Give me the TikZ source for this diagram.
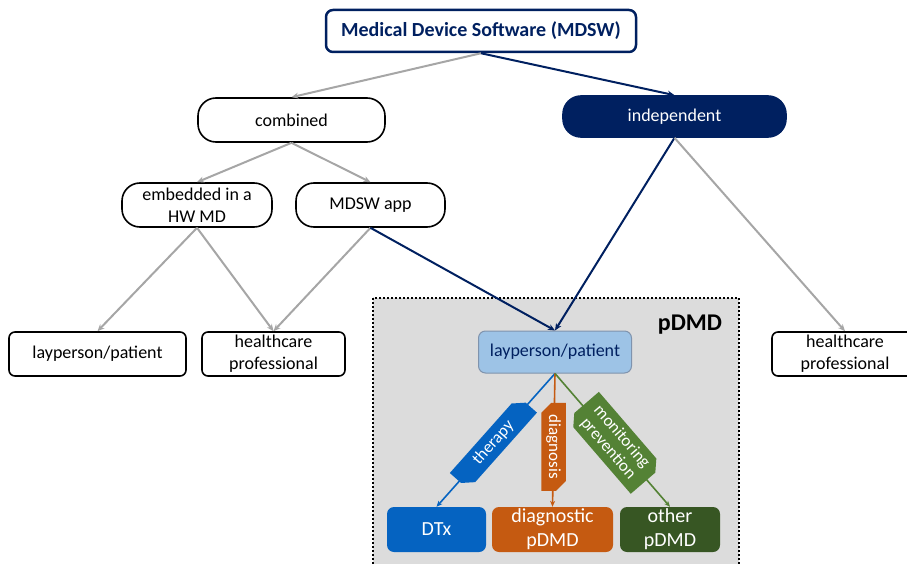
\documentclass[tikz,border=0pt]{standalone}
\usepackage{fontspec}
\setmainfont{Carlito}
\usetikzlibrary{arrows.meta,shapes.misc}
\definecolor{navy}{HTML}{002060}
\definecolor{arrgray}{HTML}{A6A6A6}
\definecolor{lblue}{HTML}{9DC3E6}
\definecolor{lblueborder}{HTML}{7F93AD}
\definecolor{dtxblue}{HTML}{0563C1}
\definecolor{orng}{HTML}{C55A11}
\definecolor{dgreen}{HTML}{375623}
\definecolor{mgreen}{HTML}{548235}
\definecolor{boxgray}{HTML}{DCDCDC}
\begin{document}
\begin{tikzpicture}[x=1pt,y=-1pt,
  fs/.style={font=\fontsize{18}{22}\selectfont},
  pill/.style={draw=black, line width=1.6pt, rounded corners=18pt, inner sep=0pt, align=center, fs},
  plainbox/.style={draw=black, line width=1.6pt, rounded corners=6pt, inner sep=0pt, align=center, fs},
  leafbox/.style={rounded corners=7pt, inner sep=0pt, align=center, text=white, font=\fontsize{20}{24}\selectfont},
  garrow/.style={draw=arrgray, line width=2pt, -{Stealth[length=7pt,width=6pt]}},
  narrow/.style={draw=navy, line width=2pt, -{Stealth[length=7pt,width=6pt]}},
  carrow/.style={line width=1.6pt, -{Stealth[length=6pt,width=5pt]}},
  tagbox/.style={chamfered rectangle, chamfered rectangle corners={north east,south west},
     chamfered rectangle xsep=5pt, chamfered rectangle ysep=5pt,
     inner sep=0pt, text=white, align=center, font=\fontsize{17}{18}\selectfont}
]
\useasboundingbox (0,0) rectangle (907,564);

% pDMD background box
\draw[fill=boxgray, draw=black, line width=2pt, dotted] (373,298) rectangle (739,580);
\node[font=\fontsize{24}{28}\selectfont\bfseries, inner sep=0pt] (ptitle) at (690,325) {pDMD};

% nodes
\node[draw=navy, line width=2.5pt, rounded corners=7pt, minimum width=310pt, minimum height=42pt,
      inner sep=0pt, text=navy, font=\fontsize{20}{24}\selectfont\bfseries] (mdsw) at (481,31) {Medical Device Software (MDSW)};

\node[pill, minimum width=187pt, minimum height=44pt] (comb) at (291.5,120) {combined};
\node[pill, draw=navy, fill=navy, text=white, minimum width=223pt, minimum height=41pt] (indep) at (674.5,116.5) {independent};

\node[pill, minimum width=150pt, minimum height=44pt] (emb) at (197,205) {embedded in a\\HW MD};
\node[pill, minimum width=149pt, minimum height=44pt] (app) at (370.5,205) {MDSW app};

\node[plainbox, minimum width=177pt, minimum height=44pt] (lay1) at (97.5,354) {layperson/patient};
\node[plainbox, minimum width=143pt, minimum height=44pt] (hc1) at (273.5,354) {healthcare\\professional};
\node[plainbox, minimum width=146pt, minimum height=44pt] (hc2) at (845,354) {healthcare\\professional};

\node[draw=lblueborder, line width=1pt, fill=lblue, rounded corners=7pt, minimum width=153pt, minimum height=42pt,
      inner sep=0pt, text=navy, fs] (lay2) at (555,352) {layperson/patient};

\node[leafbox, fill=dtxblue, minimum width=99pt, minimum height=45pt] (dtx) at (436.5,529.5) {DTx};
\node[leafbox, fill=orng, minimum width=121pt, minimum height=45pt] (diag) at (552.5,529.5) {diagnostic\\pDMD};
\node[leafbox, fill=dgreen, minimum width=100pt, minimum height=45pt] (oth) at (670,529.5) {other\\pDMD};

% connectors
\draw[garrow] (mdsw.south) -- (comb.north);
\draw[narrow] (mdsw.south) -- (indep.north);
\draw[garrow] (comb.south) -- (emb.north);
\draw[garrow] (comb.south) -- (app.north);
\draw[garrow] (emb.south) -- (lay1.north);
\draw[garrow] (emb.south) -- (hc1.north);
\draw[garrow] (app.south) -- (hc1.north);
\draw[narrow] (app.south) -- (lay2.north);
\draw[narrow] (indep.south) -- (lay2.north);
\draw[garrow] (indep.south) -- (hc2.north);

\draw[carrow, draw=dtxblue] (lay2.south) -- (dtx.north)
  node[tagbox, fill=dtxblue, pos=0.52, sloped, minimum width=103pt, minimum height=25pt] (lt) {therapy};
\draw[carrow, draw=orng] (lay2.south) -- (diag.north)
  node[tagbox, fill=orng, pos=0.55, rotate=-90, minimum width=88pt, minimum height=23pt] (ld) {diagnosis};
\draw[carrow, draw=mgreen] (lay2.south) -- (oth.north)
  node[tagbox, fill=mgreen, pos=0.52, sloped, minimum width=98pt, minimum height=40pt] (lm) {monitoring\\prevention};
\end{tikzpicture}
\end{document}
